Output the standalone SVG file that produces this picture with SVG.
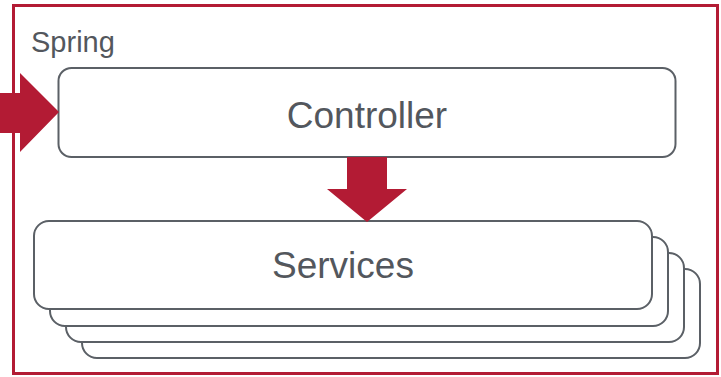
<svg xmlns="http://www.w3.org/2000/svg" width="721" height="377" viewBox="0 0 721 377">
  <style>
    .box { fill: #ffffff; stroke: #5b6066; stroke-width: 2; }
    .label { font-family: "Liberation Sans", Arial, sans-serif; fill: #53575d; }
    .arrow { fill: #b31b34; }
  </style>
  <rect width="721" height="377" fill="#ffffff"/>

  <!-- outer Spring container -->
  <g id="spring">
    <rect x="13.5" y="5.5" width="704" height="368" fill="none" stroke="#b31b34" stroke-width="3"/>
    <text class="label" x="31" y="52" font-size="29">Spring</text>
  </g>

  <!-- stacked service boxes, back to front -->
  <g id="services">
    <rect class="box" x="82" y="269" width="618" height="89" rx="15"/>
    <rect class="box" x="66" y="253" width="618" height="89" rx="15"/>
    <rect class="box" x="50" y="237" width="618" height="89" rx="15"/>
    <rect class="box" x="34" y="221" width="618" height="88" rx="15"/>
    <text class="label" x="343" y="278" font-size="37" text-anchor="middle">Services</text>
  </g>

  <g id="controller">
    <rect class="box" x="58.5" y="68" width="617" height="89" rx="13"/>
    <text class="label" x="367" y="128" font-size="37" text-anchor="middle">Controller</text>
  </g>

  <!-- block arrows -->
  <g id="connectors">
    <polygon class="arrow" points="0,93 20,93 20,73 59,112 20,152 20,133 0,133"/>
    <polygon class="arrow" points="347,157 387,157 387,189 407,189 367,222 327,189 347,189"/>
  </g>
</svg>
